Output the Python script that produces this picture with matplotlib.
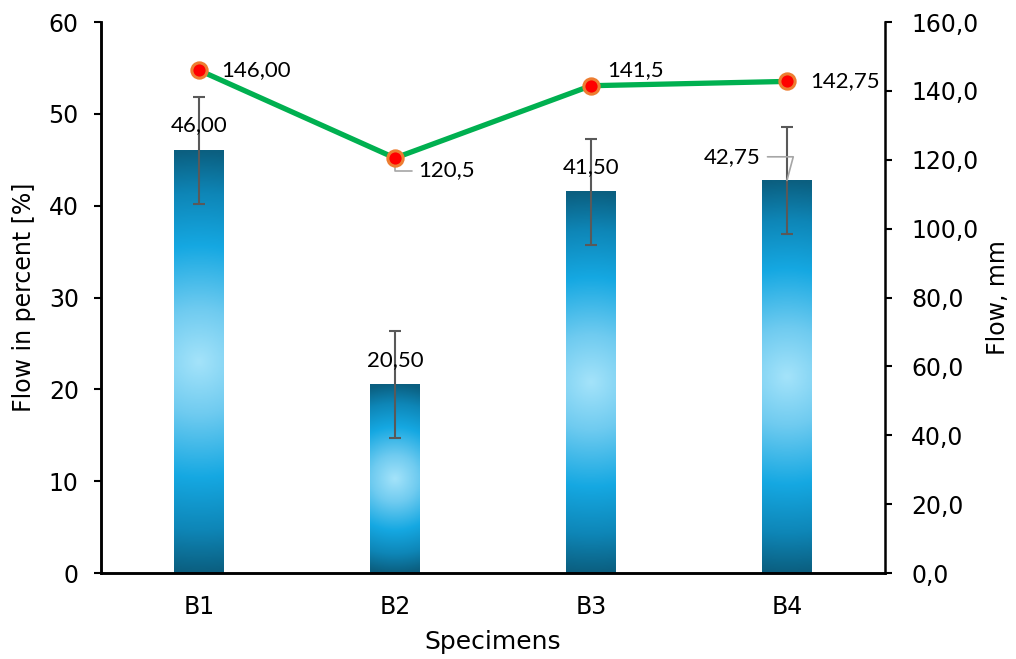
import numpy as np
import matplotlib
matplotlib.use("Agg")
import matplotlib.pyplot as plt
from matplotlib.colors import LinearSegmentedColormap

## Data ##
specimens = ["B1", "B2", "B3", "B4"]
flow_percent = [46.00, 20.50, 41.50, 42.75]
flow_err = [5.8, 5.8, 5.8, 5.8]
flow_mm = [146.00, 120.5, 141.5, 142.75]
bar_labels = ["46,00", "20,50", "41,50", "42,75"]
line_labels = ["146,00", "120,5", "141,5", "142,75"]
left_ticks = [0, 10, 20, 30, 40, 50, 60]
right_ticks = [0, 20, 40, 60, 80, 100, 120, 140, 160]
## Data ##

plt.rcParams['font.family'] = ['DejaVu Sans']
label_font = ['Lato', 'DejaVu Sans']
fs = 17
lfs = 16

fig = plt.figure(figsize=(10.16, 6.59), dpi=100)
ax = fig.add_axes([0.0994, 0.1305, 0.7716, 0.8361])
ax2 = ax.twinx()

x = np.arange(len(specimens))
bar_w = 0.255
ax.set_xlim(-0.5, len(specimens) - 0.5)
ax.set_ylim(0, 60)
ax2.set_ylim(0, 160)

# radial gradient fill for the bars, circular in pixel space
grad = LinearSegmentedColormap.from_list(
    "bar", [(0.0, "#a4e3fa"), (0.25, "#6fcbf0"), (0.55, "#15a8e2"),
            (0.8, "#0e86b7"), (1.0, "#0b5f80")])
fig.canvas.draw()
px_x = ax.transData.transform((1, 0))[0] - ax.transData.transform((0, 0))[0]
px_y = ax.transData.transform((0, 1))[1] - ax.transData.transform((0, 0))[1]
for xi, h in zip(x, flow_percent):
    wpx = bar_w * px_x
    hpx = h * px_y
    nx, ny = 60, 300
    gx = np.linspace(-wpx / 2, wpx / 2, nx)
    gy = np.linspace(-hpx / 2, hpx / 2, ny)
    X, Y = np.meshgrid(gx, gy)
    r = np.sqrt(X ** 2 + Y ** 2) / (hpx / 2)
    ax.imshow(np.clip(r, 0, 1), cmap=grad, vmin=0, vmax=1, origin="lower",
              extent=(xi - bar_w / 2, xi + bar_w / 2, 0, h),
              aspect="auto", interpolation="bilinear", zorder=2)
ax.set_xlim(-0.5, len(specimens) - 0.5)
ax.set_ylim(0, 60)

ax.errorbar(x, flow_percent, yerr=flow_err, fmt="none", ecolor="#595959",
            elinewidth=1.5, capsize=4.5, capthick=1.5, zorder=3)

# bar value labels
for i, (xi, h, lab) in enumerate(zip(x, flow_percent, bar_labels)):
    if i == 3:
        ax.annotate(lab, xy=(xi, h), xytext=(-19, 17), textcoords="offset points",
                    ha="right", va="center", fontsize=lfs, family=label_font,
                    arrowprops=dict(arrowstyle="-", color="#a6a6a6", lw=1.2,
                                    connectionstyle="angle,angleA=0,angleB=75,rad=0",
                                    shrinkA=3, shrinkB=0))
    else:
        ax.annotate(lab, xy=(xi, h), xytext=(0, 18), textcoords="offset points",
                    ha="center", va="center", fontsize=lfs, family=label_font)

ax2.plot(x, flow_mm, color="#00b050", lw=3.8, marker="o", ms=11,
         mfc="#ff0000", mec="#ed7d31", mew=2.2, zorder=5)

offsets = [(16, 0), (17, -9), (12, 11), (17, 0)]
for i, (xi, v, lab) in enumerate(zip(x, flow_mm, line_labels)):
    dx, dy = offsets[i]
    if i == 1:
        ax2.annotate(lab, xy=(xi, v), xytext=(dx, dy), textcoords="offset points",
                     ha="left", va="center", fontsize=lfs, family=label_font,
                     arrowprops=dict(arrowstyle="-", color="#a6a6a6", lw=1.2,
                                     connectionstyle="angle,angleA=0,angleB=90,rad=0",
                                     shrinkA=3, shrinkB=0))
    else:
        ax2.annotate(lab, xy=(xi, v), xytext=(dx, dy), textcoords="offset points",
                     ha="left", va="center", fontsize=lfs, family=label_font)

ax.set_xticks(x)
ax.set_xticklabels(specimens)
ax.tick_params(axis="x", length=0, labelsize=fs, pad=16)
ax.set_yticks(left_ticks)
ax.tick_params(axis="y", length=5, width=1.5, labelsize=fs, direction="out", pad=11)
ax2.set_yticks(right_ticks)
ax2.set_yticklabels([f"{t:.1f}".replace(".", ",") for t in right_ticks])
ax2.tick_params(axis="y", length=5, width=1.5, labelsize=fs, direction="out", pad=14)

for a in (ax, ax2):
    a.spines["top"].set_visible(False)
    for s in ("left", "right", "bottom"):
        a.spines[s].set_linewidth(1.8)
ax.spines["right"].set_visible(False)

ax.set_xlabel("Specimens", fontsize=18, labelpad=8)
ax.set_ylabel("Flow in percent [%]", fontsize=fs, labelpad=9)
ax2.set_ylabel("Flow, mm", fontsize=fs, labelpad=5)

fig.savefig("out.png", dpi=100)
